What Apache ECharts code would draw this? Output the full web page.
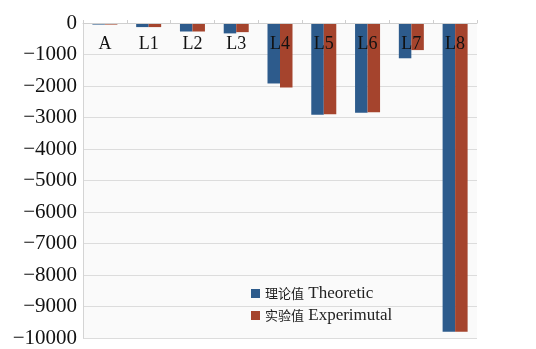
<!DOCTYPE html>
<html>
<head>
<meta charset="utf-8">
<script src="https://cdn.jsdelivr.net/npm/echarts@6/dist/echarts.min.js"></script>
<style>
  html, body { margin: 0; padding: 0; background: #ffffff; }
  #chart { width: 536px; height: 349px; }
</style>
</head>
<body>
<div id="chart"></div>
<script>
// Stress values per position, theoretical vs experimental
const categories = ['A', 'L1', 'L2', 'L3', 'L4', 'L5', 'L6', 'L7', 'L8'];
const theoretic = [-50, -130, -270, -330, -1920, -2910, -2850, -1120, -9800];
const experimental = [-50, -130, -270, -290, -2050, -2900, -2830, -860, -9800];
const seriesNames = ['理论值 Theoretic', '实验值 Experimutal'];
const yMin = -10000, yMax = 0, yStep = 1000;

const serif = '"Liberation Serif", "Times New Roman", serif';

const chart = echarts.init(document.getElementById('chart'));

function legendText(name) {
  const i = name.indexOf(' ');
  return '{cjk|' + name.slice(0, i) + '}{lat|' + name.slice(i) + '}';
}

chart.setOption({
  backgroundColor: '#ffffff',
  animation: false,
  grid: { left: 83, right: 59, top: 23, bottom: 11, show: true, backgroundColor: '#fafafa', borderWidth: 0 },
  legend: {
    orient: 'vertical',
    left: 246,
    top: 280,
    itemWidth: 9,
    itemHeight: 9,
    itemGap: 5,
    itemTextGap: 3,
    icon: 'rect',
    data: seriesNames,
    formatter: legendText,
    textStyle: {
      color: '#222',
      rich: {
        cjk: { fontFamily: '"Noto Sans CJK SC", sans-serif', fontSize: 13, color: '#222' },
        lat: { fontFamily: serif, fontSize: 17, color: '#222' }
      }
    }
  },
  xAxis: {
    type: 'category',
    data: categories,
    position: 'top',
    z: 5,
    axisLine: { show: true, onZero: false, lineStyle: { color: '#cfcfcf', width: 1 } },
    axisTick: { show: true, length: 3, lineStyle: { color: '#cfcfcf' } },
    axisLabel: { inside: true, margin: 12, fontFamily: serif, fontSize: 18, color: '#111' }
  },
  yAxis: {
    type: 'value',
    min: yMin,
    max: yMax,
    interval: yStep,
    axisLine: { show: true, lineStyle: { color: '#d4d4d4', width: 1 } },
    axisTick: { show: false },
    splitLine: { lineStyle: { color: '#dcdcdc', width: 1 } },
    axisLabel: {
      margin: 6,
      fontFamily: serif,
      fontSize: 21,
      color: '#111',
      formatter: v => String(v).replace('-', '\u2212')
    }
  },
  series: [
    {
      name: seriesNames[0],
      type: 'bar',
      data: theoretic,
      barWidth: 12.5,
      barGap: '0%',
      itemStyle: { color: '#2d5b8c' }
    },
    {
      name: seriesNames[1],
      type: 'bar',
      data: experimental,
      barWidth: 12.5,
      barGap: '0%',
      itemStyle: { color: '#a5442d' }
    }
  ]
});
</script>
</body>
</html>
